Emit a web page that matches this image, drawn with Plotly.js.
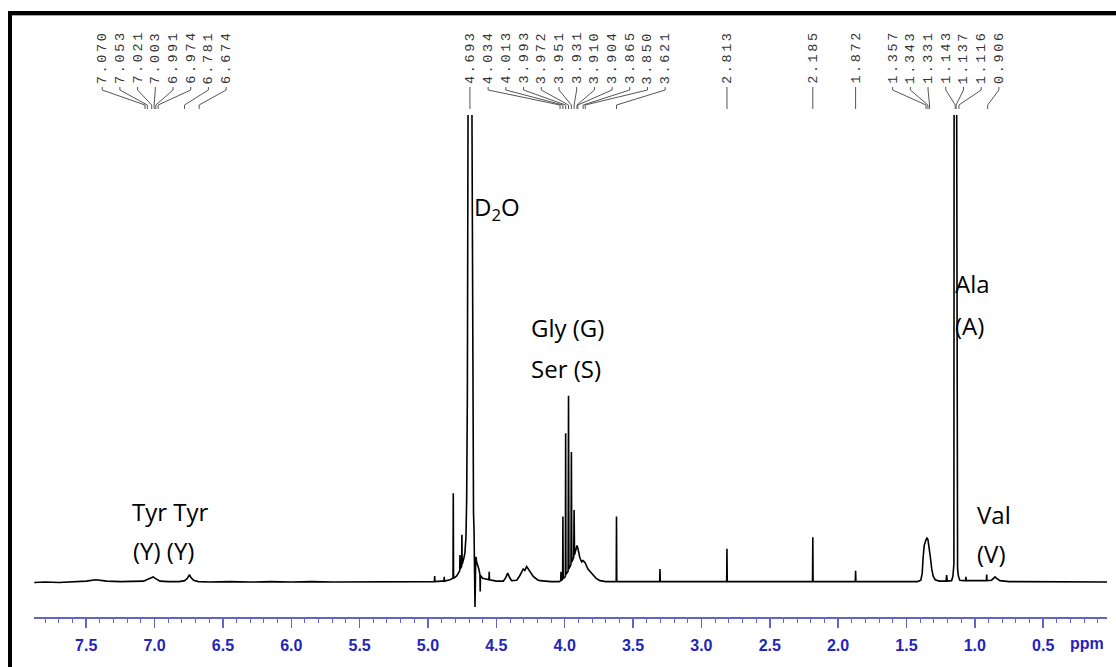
<!DOCTYPE html>
<html>
<head>
<meta charset="utf-8">
<script src="https://cdn.plot.ly/plotly-3.0.1.min.js"></script>
<style>
html,body{margin:0;padding:0;background:#fff;}
#chart{width:1116px;height:667px;}
.annotation-text[style*="Liberation Mono"]{letter-spacing:2.6px;}
</style>
</head>
<body>
<div id="chart"></div>
<script>
// ---- spectrum (chemical shift in ppm, relative intensity) ----
const specPpm = [
7.880,7.800,7.700,7.600,7.500,7.430,7.350,7.250,7.150,7.080,7.050,7.025,7.010,6.995,6.960,6.900,6.820,6.780,6.760,6.745,6.735,6.715,6.680,6.600,6.450,6.300,6.150,6.000,5.850,5.700,5.550,5.400,5.250,5.100,5.000,
4.953,4.951,4.949,4.900,4.883,4.881,4.879,4.840,4.817,4.815,4.813,4.790,4.768,4.766,4.764,4.754,4.752,4.750,4.740,4.730,4.722,4.717,4.712,4.707,4.703,4.685,4.678,4.673,4.667,4.663,4.659,4.656,4.652,4.649,4.644,4.638,4.628,4.620,4.618,4.616,4.600,4.580,4.554,4.552,4.550,4.500,
4.449,4.430,4.417,4.400,4.388,4.351,4.330,4.303,4.292,4.278,4.260,4.230,4.200,4.181,4.100,
4.040,4.029,4.027,4.025,4.015,4.013,4.011,4.000,3.995,3.993,3.991,3.975,3.972,3.969,3.954,3.951,3.948,3.934,3.931,3.928,3.918,3.910,3.904,3.890,3.876,3.865,3.850,3.830,3.803,3.770,3.742,3.700,
3.650,3.623,3.621,3.619,3.500,3.400,3.305,3.303,3.301,3.200,3.050,2.900,2.815,2.813,2.811,2.650,2.450,2.300,2.187,2.185,2.183,2.050,1.950,1.874,1.872,1.870,1.700,1.550,
1.420,1.395,1.385,1.378,1.370,1.360,1.350,1.343,1.335,1.325,1.315,1.305,1.290,1.260,
1.210,1.206,1.202,1.170,1.160,1.153,1.1515,1.150,1.135,1.1325,1.131,1.126,1.120,1.110,
1.080,1.067,1.065,1.063,1.000,0.950,0.915,0.913,0.911,0.877,0.860,0.852,0.840,0.816,0.750,0.600,0.450,0.300,0.150,0.033
];
const specInt = [
0.1,0.2,0.1,0.3,0.4,0.7,0.4,0.3,0.3,0.4,0.8,1.1,1.3,1.0,0.4,0.3,0.3,0.5,1.0,1.8,1.2,0.6,0.3,0.2,0.3,0.2,0.3,0.2,0.3,0.2,0.2,0.3,0.2,0.3,0.3,
0.3,1.5,0.3,0.4,0.4,1.3,0.4,0.7,1.0,19.2,1.0,1.5,2.6,6.0,3.0,3.5,10.3,4.0,5.0,6.4,10.0,18.0,40.0,100,150,150,100,43,15,11,5,-5.1,3,5.6,4.5,4.0,3.0,1.8,-1.8,1.6,1.0,0.8,0.7,2.4,0.7,0.4,
0.4,1.2,2.1,1.0,0.5,0.6,1.5,3.0,2.7,3.5,2.6,1.4,0.7,0.5,0.3,
0.3,0.5,2.4,0.5,0.8,14.2,1.0,1.2,1.5,32,1.8,2.5,40,3.0,4.0,28,4.5,5.5,15.6,6.0,7.0,8.0,7.5,5.5,4.5,4.8,4.3,3.0,2.1,1.0,0.5,0.3,
0.3,0.3,14.2,0.3,0.3,0.3,0.3,3.0,0.3,0.3,0.3,0.3,0.3,7.3,0.3,0.3,0.3,0.3,0.3,9.8,0.3,0.3,0.3,0.3,2.6,0.3,0.3,0.3,
0.3,0.6,2.0,5.5,8.0,9.0,9.6,9.3,8.0,5.5,3.0,1.5,0.7,0.4,
0.4,1.7,0.4,0.5,1.5,4.0,100,150,150,100,4.0,3.0,1.5,0.6,
0.5,0.5,1.3,0.5,0.5,0.5,0.5,1.8,0.5,0.6,1.2,1.3,1.0,0.5,0.3,0.3,0.2,0.3,0.2,0.2
];

// ---- peak-pick labels ----
const peakLabels = ['7.070','7.053','7.021','7.003','6.991','6.974','6.781','6.674',
  '4.693',
  '4.034','4.013','3.993','3.972','3.951','3.931','3.910','3.904','3.865','3.850','3.621',
  '2.813','2.185','1.872',
  '1.357','1.343','1.331','1.143','1.137','1.116','0.906'];
const peakPpm = peakLabels.map(Number);
// label groups: first index, count, ppm of the group centre
const groupStart = [0, 8, 9, 20, 21, 22, 23];
const groupCount = [8, 1, 11, 1, 1, 1, 7];
const groupCentre = [6.930, 4.693, 3.9125, 2.813, 2.185, 1.872, 1.2124];

// ---- assignment labels ----
const assignText = ['D<sub>2</sub>O', 'Gly (G)', 'Ser (S)', 'Ala', '(A)', 'Tyr Tyr', '(Y) (Y)', 'Val', '(V)'];
const assignPpm  = [4.680, 4.262, 4.262, 1.160, 1.160, 7.182, 7.172, 1.001, 1.001];
const assignInt  = [80.1, 54.7, 45.9, 64.1, 55.1, 15.2, 7.0, 14.7, 6.2];

// ---- build label positions ----
const spacing = 0.1295;
const labelPos = new Array(peakLabels.length);
for (let g = 0; g < groupStart.length; g++) {
  const n = groupCount[g];
  for (let k = 0; k < n; k++) {
    labelPos[groupStart[g] + k] = groupCentre[g] + ((n - 1) / 2 - k) * spacing;
  }
}

// connectors on the header axis (y2 units = px above plot top)
const cx = [], cy = [];
for (let i = 0; i < peakLabels.length; i++) {
  cx.push(labelPos[i], labelPos[i], peakPpm[i], peakPpm[i], null);
  cy.push(28, 25, 10, 6, null);
}

const annotations = [];
for (let i = 0; i < peakLabels.length; i++) {
  annotations.push({
    x: labelPos[i], xref: 'x', y: 30, yref: 'y2',
    text: peakLabels[i], textangle: -90, showarrow: false,
    xanchor: 'center', yanchor: 'bottom', borderpad: 0,
    font: {family: 'Liberation Mono', size: 13.5, color: '#333'}
  });
}
for (let i = 0; i < assignText.length; i++) {
  annotations.push({
    x: assignPpm[i], xref: 'x', y: assignInt[i], yref: 'y',
    text: assignText[i], showarrow: false, xanchor: 'left', yanchor: 'middle',
    font: {family: 'Open Sans', size: 24, color: '#000'}
  });
}
// axis unit label
const L = 34, T = 10, W = 1073, H = 607;
const px = v => (v - L) / W;
const py = v => (T + H - v) / H;
annotations.push({
  x: px(1087), xref: 'paper', y: py(643), yref: 'paper', text: 'ppm', showarrow: false,
  xanchor: 'center', yanchor: 'middle',
  font: {family: 'Liberation Sans', size: 16, color: '#2424b8', weight: 'bold'}
});

const shapes = [
  {type: 'line', xref: 'paper', yref: 'paper', x0: px(10), x1: px(10), y0: py(11), y1: py(667),
   line: {color: '#000', width: 4}},
  {type: 'line', xref: 'paper', yref: 'paper', x0: px(8), x1: px(1116), y0: py(13), y1: py(13),
   line: {color: '#000', width: 4}},
  {type: 'line', xref: 'paper', yref: 'paper', x0: px(12), x1: px(1116), y0: py(15.5), y1: py(15.5),
   line: {color: '#aaa', width: 1}}
];

const traces = [
  {x: specPpm, y: specInt, type: 'scatter', mode: 'lines', xaxis: 'x', yaxis: 'y',
   line: {color: '#000', width: 1.6}, hoverinfo: 'skip'},
  {x: cx, y: cy, type: 'scatter', mode: 'lines', xaxis: 'x', yaxis: 'y2',
   line: {color: '#555', width: 1}, hoverinfo: 'skip', connectgaps: false}
];

const split = 502 / 607;
const layout = {
  width: 1116, height: 667,
  margin: {l: L, r: 9, t: T, b: 50},
  paper_bgcolor: '#fff', plot_bgcolor: '#fff',
  showlegend: false,
  xaxis: {
    range: [7.882, 0.033], anchor: 'y', showgrid: false, zeroline: false,
    showline: true, linecolor: '#6464c8', linewidth: 1.5,
    ticks: 'outside', ticklen: 9, tickwidth: 1.5, tickcolor: '#6464c8',
    tick0: 0, dtick: 0.5, tickformat: '.1f', ticklabelstandoff: 4,
    tickfont: {family: 'Liberation Sans', size: 16, color: '#2424b8', weight: 'bold'},
    minor: {dtick: 0.1, ticks: 'outside', ticklen: 4, tickwidth: 1, tickcolor: '#6464c8', showgrid: false}
  },
  yaxis: {domain: [0, split], range: [-7.265, 100], visible: false, fixedrange: true},
  yaxis2: {domain: [split, 1], range: [0, 105], visible: false, anchor: 'x'},
  annotations: annotations,
  shapes: shapes
};

Plotly.newPlot('chart', traces, layout, {staticPlot: true});
</script>
</body>
</html>
